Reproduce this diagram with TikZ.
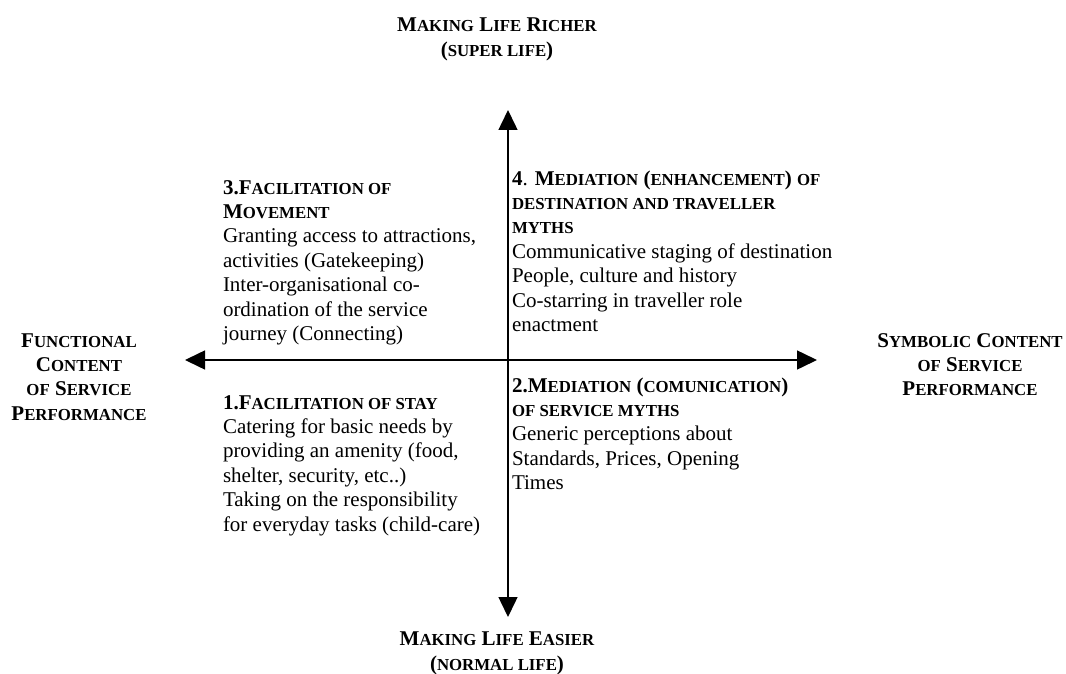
\documentclass[tikz,border=0pt]{standalone}
\usepackage{fontspec}
\setmainfont{Liberation Serif}
\usetikzlibrary{arrows.meta}
\newcommand{\SC}[1]{{\fontsize{16.8}{16.8}\selectfont #1}}
\tikzset{
  body/.style={inner sep=0pt, outer sep=0pt, align=left, anchor=base west,
    font=\fontsize{21}{24.4}\selectfont},
  lab/.style={inner sep=0pt, outer sep=0pt, align=center, anchor=base,
    font=\fontsize{21}{24.4}\selectfont\bfseries},
  axis/.style={line width=1.5pt, {Triangle[length=20pt,width=19pt]}-{Triangle[length=20pt,width=19pt]}}
}
\begin{document}
\begin{tikzpicture}[x=1pt,y=-1pt]
\useasboundingbox (0,0) rectangle (1066,674);
% axes
\coordinate (top) at (508,110);
\coordinate (bot) at (508,617);
\coordinate (lft) at (185,360);
\coordinate (rgt) at (817,360);
\draw[axis] (bot) -- (top);
\draw[axis] (lft) -- (rgt);
% axis labels (anchor = baseline of last line)
\node[lab] (toplab) at (497,56.4) {M\SC{AKING} L\SC{IFE} R\SC{ICHER}\\(\SC{SUPER LIFE})};
\node[lab] (botlab) at (497,670) {M\SC{AKING} L\SC{IFE} E\SC{ASIER}\\(\SC{NORMAL LIFE})};
\node[lab] (lftlab) at (79,420.2) {F\SC{UNCTIONAL}\\C\SC{ONTENT}\\\SC{OF} S\SC{ERVICE}\\P\SC{ERFORMANCE}};
\node[lab] (rgtlab) at (970,395.8) {S\SC{YMBOLIC} C\SC{ONTENT}\\\SC{OF} S\SC{ERVICE}\\P\SC{ERFORMANCE}};
% quadrants
\node[body] (q3) at (223,340.4) {\textbf{3.F\SC{ACILITATION OF}}\\\textbf{M\SC{OVEMENT}}\\Granting access to attractions,\\activities (Gatekeeping)\\Inter-organisational co-\\ordination of the service\\journey (Connecting)};
\node[body] (q4) at (512,331.4) {\textbf{4}. \textbf{M\SC{EDIATION} (\SC{ENHANCEMENT}) \SC{OF}}\\\textbf{\SC{DESTINATION AND TRAVELLER}}\\\textbf{\SC{MYTHS}}\\Communicative staging of destination\\People, culture and history\\Co-starring in traveller role\\enactment};
\node[body] (q1) at (223,531) {\textbf{1.F\SC{ACILITATION OF STAY}}\\Catering for basic needs by\\providing an amenity (food,\\shelter, security, etc..)\\Taking on the responsibility\\for everyday tasks (child-care)};
\node[body] (q2) at (512,489.6) {\textbf{2.M\SC{EDIATION} (\SC{COMUNICATION})}\\\textbf{\SC{OF SERVICE MYTHS}}\\Generic perceptions about\\Standards, Prices, Opening\\Times};
\end{tikzpicture}
\end{document}
